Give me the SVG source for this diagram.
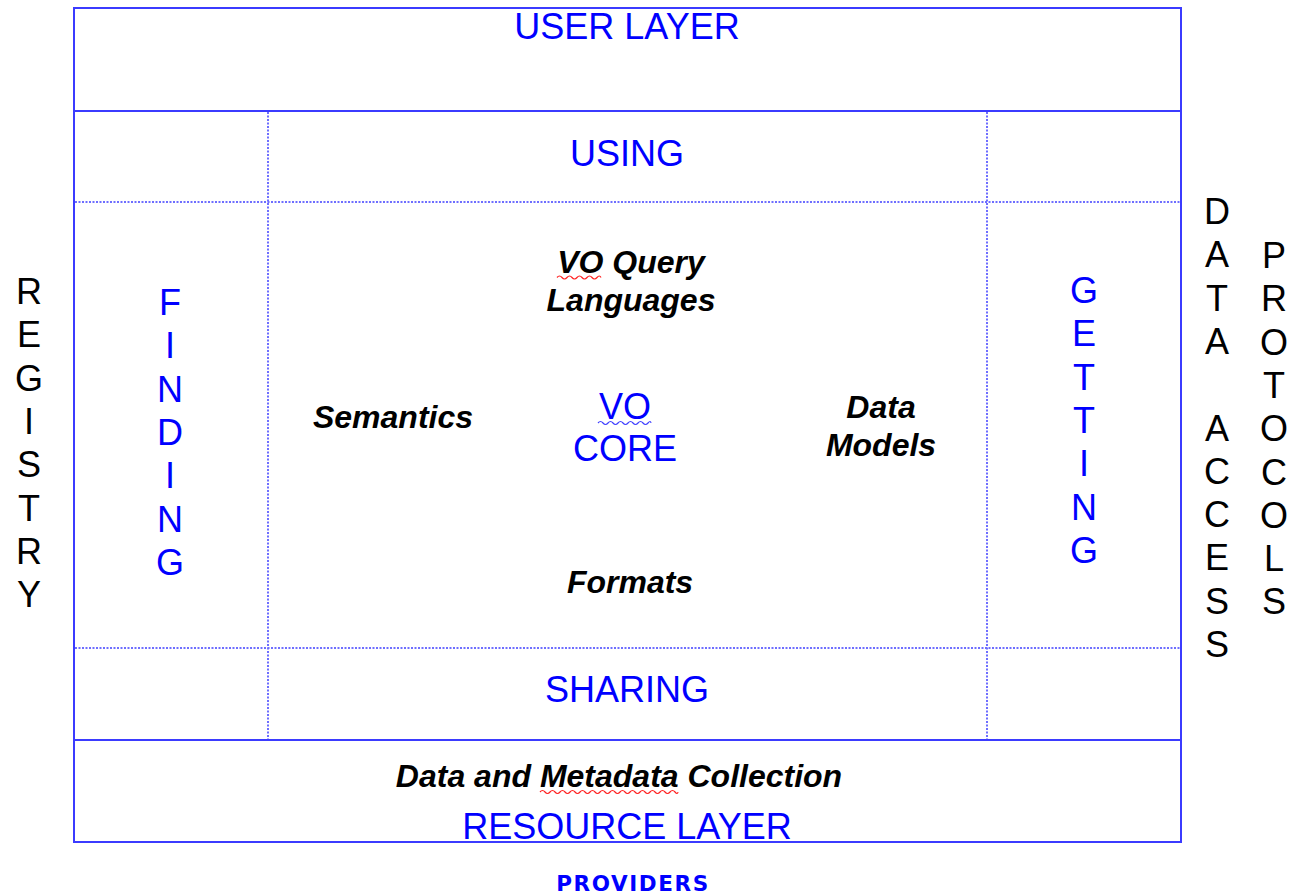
<svg xmlns="http://www.w3.org/2000/svg" width="1289" height="895" viewBox="0 0 1289 895">
<style>
.solid{stroke:#3b3bff;stroke-width:2;fill:none}
.dot{stroke:#6e6eff;stroke-width:2;stroke-dasharray:2 1.5;fill:none}
.blue{font-family:"Liberation Sans",Arial,sans-serif;font-size:36px;fill:#0000ff;text-anchor:middle}
.blk{font-family:"Liberation Sans",Arial,sans-serif;font-size:36px;fill:#000;text-anchor:middle}
.bi{font-family:"Liberation Sans",Arial,sans-serif;font-size:32px;font-weight:bold;font-style:italic;fill:#000;text-anchor:middle}
.sq{fill:none;stroke-width:1.2}
</style>
<rect width="1289" height="895" fill="#fff"/>
<g id="connectors">
<line class="dot" x1="75" y1="202" x2="1180" y2="202"/>
<line class="dot" x1="75" y1="648" x2="1180" y2="648"/>
<line class="dot" x1="268" y1="112" x2="268" y2="739"/>
<line class="dot" x1="987" y1="112" x2="987" y2="739"/>
<rect class="solid" x="74" y="8" width="1107" height="834"/>
<line class="solid" x1="74" y1="111" x2="1181" y2="111"/>
<line class="solid" x1="74" y1="740" x2="1181" y2="740"/>
</g>
<g id="user-layer"><text class="blue" x="627" y="39">USER LAYER</text></g>
<g id="using"><text class="blue" x="627" y="166">USING</text></g>
<g id="sharing"><text class="blue" x="627" y="702">SHARING</text></g>
<g id="resource-layer"><text class="blue" x="627" y="839">RESOURCE LAYER</text></g>
<g id="vo-core">
<text class="blue" x="625" y="419">VO</text>
<text class="blue" x="625" y="461">CORE</text>
<path class="sq" stroke="#4040ff" d="M598 423 q2.5 -3 5 0 t5 0 t5 0 t5 0 t5 0 t5 0 t5 0 t5 0 t5 0 t5 0 t3 0"/>
</g>
<g id="vo-query">
<text class="bi" x="631" y="273">VO Query</text>
<text class="bi" x="631" y="311">Languages</text>
<path class="sq" stroke="#ff2020" d="M557 277.5 q2.5 -3 5 0 t5 0 t5 0 t5 0 t5 0 t5 0 t5 0 t5 0 t4 0"/>
</g>
<g id="semantics"><text class="bi" x="393" y="428">Semantics</text></g>
<g id="data-models">
<text class="bi" x="881" y="418">Data</text>
<text class="bi" x="881" y="456">Models</text>
</g>
<g id="formats"><text class="bi" x="630" y="593">Formats</text></g>
<g id="collection">
<text class="bi" x="619" y="787">Data and Metadata Collection</text>
<path class="sq" stroke="#ff2020" d="M540 792 q2.5 -3 5 0 t5 0 t5 0 t5 0 t5 0 t5 0 t5 0 t5 0 t5 0 t5 0 t5 0 t5 0 t5 0 t5 0 t5 0 t5 0 t5 0 t5 0 t5 0 t5 0 t5 0 t5 0 t5 0 t5 0 t5 0 t5 0 t5 0 t3 0"/>
</g>
<g id="providers"><text x="633" y="891" text-anchor="middle" font-family="DejaVu Sans,sans-serif" font-weight="bold" font-size="21.5px" letter-spacing="1.6" fill="#0000ff">PROVIDERS</text></g>
<g id="finding"><text class="blue" x="170" y="315"><tspan x="170">F</tspan><tspan x="170" dy="43.3">I</tspan><tspan x="170" dy="43.3">N</tspan><tspan x="170" dy="43.3">D</tspan><tspan x="170" dy="43.3">I</tspan><tspan x="170" dy="43.3">N</tspan><tspan x="170" dy="43.3">G</tspan></text></g>
<g id="getting"><text class="blue" x="1084" y="303"><tspan x="1084">G</tspan><tspan x="1084" dy="43.3">E</tspan><tspan x="1084" dy="43.3">T</tspan><tspan x="1084" dy="43.3">T</tspan><tspan x="1084" dy="43.3">I</tspan><tspan x="1084" dy="43.3">N</tspan><tspan x="1084" dy="43.3">G</tspan></text></g>
<g id="registry"><text class="blk" x="29" y="304"><tspan x="29">R</tspan><tspan x="29" dy="43.3">E</tspan><tspan x="29" dy="43.3">G</tspan><tspan x="29" dy="43.3">I</tspan><tspan x="29" dy="43.3">S</tspan><tspan x="29" dy="43.3">T</tspan><tspan x="29" dy="43.3">R</tspan><tspan x="29" dy="43.3">Y</tspan></text></g>
<g id="data-access"><text class="blk" x="1217" y="224"><tspan x="1217">D</tspan><tspan x="1217" dy="43.3">A</tspan><tspan x="1217" dy="43.3">T</tspan><tspan x="1217" dy="43.3">A</tspan><tspan x="1217" dy="86.6">A</tspan><tspan x="1217" dy="43.3">C</tspan><tspan x="1217" dy="43.3">C</tspan><tspan x="1217" dy="43.3">E</tspan><tspan x="1217" dy="43.3">S</tspan><tspan x="1217" dy="43.3">S</tspan></text></g>
<g id="protocols"><text class="blk" x="1274" y="268"><tspan x="1274">P</tspan><tspan x="1274" dy="43.3">R</tspan><tspan x="1274" dy="43.3">O</tspan><tspan x="1274" dy="43.3">T</tspan><tspan x="1274" dy="43.3">O</tspan><tspan x="1274" dy="43.3">C</tspan><tspan x="1274" dy="43.3">O</tspan><tspan x="1274" dy="43.3">L</tspan><tspan x="1274" dy="43.3">S</tspan></text></g>
</svg>
